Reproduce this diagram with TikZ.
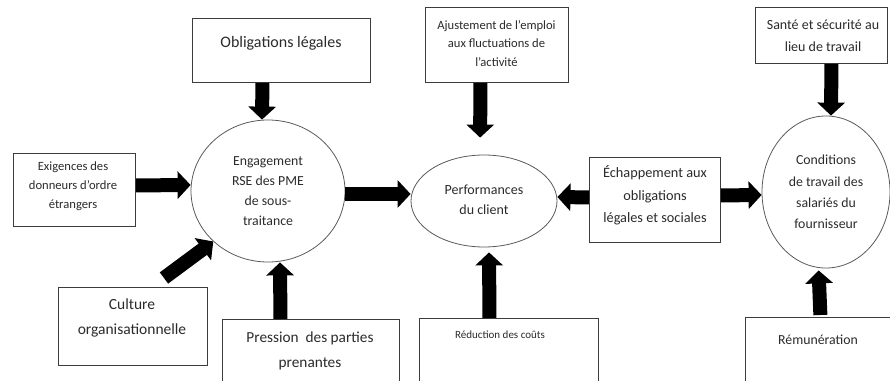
\documentclass[tikz,border=0pt]{standalone}
\usepackage{fontspec}
\setmainfont{Carlito}
\usetikzlibrary{arrows.meta,shapes.geometric}
\definecolor{ink}{HTML}{2B2B2B}
\definecolor{edge}{HTML}{3C3C3C}
\tikzset{
  boxnode/.style={draw=edge, line width=0.9pt, fill=white, inner sep=0pt, anchor=north west},
  ellnode/.style={ellipse, draw=edge!85, line width=0.8pt, inner sep=0pt, align=center, text=ink},
  txt/.style={align=center, text=ink, inner sep=0pt},
  bigarrow/.style={line width=14pt, draw=black, -{Triangle[width=27pt,length=13pt]}},
}
\newcommand{\fs}[2]{\fontsize{#1}{#2}\selectfont}
\begin{document}
\begin{tikzpicture}[x=1pt,y=-1pt]
\useasboundingbox (0,0) rectangle (890,380);
\begin{scope}
\clip (0,0) rectangle (890,380);
% boxes
\node[boxnode, minimum width=178pt, minimum height=64pt] (obl) at (192,18) {};
\node[txt, font=\fs{16}{20}] (oblT) at (281,43) {Obligations légales};

\node[boxnode, minimum width=143pt, minimum height=75pt] (aj) at (425,7) {};
\node[txt, font=\fs{12.6}{18.5}] (ajT) at (496.5,43.5) {Ajustement de l'emploi\\aux fluctuations de\\l'activité};

\node[boxnode, minimum width=132pt, minimum height=56pt] (sante) at (755,7) {};
\node[txt, font=\fs{14}{22}] (santeT) at (823,36) {Santé et sécurité au\\lieu de travail};

\node[boxnode, minimum width=122pt, minimum height=73pt] (ex) at (13,153) {};
\node[txt, font=\fs{12.6}{19}] (exT) at (73,186) {Exigences des\\donneurs d'ordre\\étrangers};

\node[boxnode, minimum width=131pt, minimum height=85pt] (ech) at (589,157) {};
\node[txt, font=\fs{14.3}{22.5}] (echT) at (655,195.5) {Échappement aux\\obligations\\légales et sociales};

\node[boxnode, minimum width=149pt, minimum height=78pt] (cult) at (58,287) {};
\node[txt, font=\fs{15.5}{25}] (cultT) at (132,317.5) {Culture\\organisationnelle};

\node[boxnode, minimum width=177pt, minimum height=75pt] (pres) at (222,319) {};
\node[txt, font=\fs{15.3}{25}] (presT) at (310,350.5) {Pression\ \ des parties\\prenantes};

\node[boxnode, minimum width=179pt, minimum height=75pt] (red) at (419,318) {};
\node[txt, font=\fs{11}{14}] (redT) at (500,335) {Réduction des coûts};

\node[boxnode, minimum width=150pt, minimum height=75pt] (rem) at (745,317) {};
\node[txt, font=\fs{13.8}{18}] (remT) at (818,340) {Rémunération};

% ellipses
\node[ellnode, minimum width=154pt, minimum height=142pt, font=\fs{13.8}{20}] (eng) at (268,191) {Engagement\\RSE des PME\\de sous-\\traitance};
\node[ellnode, minimum width=146pt, minimum height=92pt, font=\fs{14}{20}] (perf) at (484,201) {\raisebox{3pt}{Performances}\\\raisebox{3pt}{du client}};
\node[ellnode, minimum width=128pt, minimum height=152pt, font=\fs{13.8}{21.3}] (cond) at (826,192) {Conditions\\de travail des\\salariés du\\fournisseur};

% arrows
\draw[bigarrow] ([xshift=-19pt]obl.south) -- ([xshift=-6pt]eng.north);
\draw[bigarrow] ([yshift=4.5pt]ex.east) -- ([yshift=6pt]eng.west);
\draw[bigarrow] ([shift={(31pt,9pt)}]cult.north) -- (eng.south west);
\draw[bigarrow] ([xshift=-30.5pt]pres.north) -- ([xshift=12pt]eng.south);
\draw[bigarrow] ([yshift=-3pt]eng.east) -- ([yshift=7pt]perf.west);
\draw[bigarrow, shorten >=17pt] ([xshift=-16.5pt]aj.south) -- ([xshift=-4pt]perf.north);
\draw[bigarrow, shorten >=5pt] ([xshift=-19.5pt]red.north) -- ([xshift=5pt]perf.south);
\draw[bigarrow] ([yshift=2.5pt]ech.west) -- ([yshift=4pt]perf.east);
\draw[bigarrow] ([yshift=4.5pt]ech.east) -- ([yshift=-3pt]cond.west);
\draw[bigarrow] ([xshift=10pt]sante.south) -- ([xshift=5pt]cond.north);
\draw[bigarrow, shorten <=2pt, shorten >=2pt] (rem.north) -- ([xshift=-7.5pt]cond.south);
\end{scope}
\end{tikzpicture}
\end{document}
